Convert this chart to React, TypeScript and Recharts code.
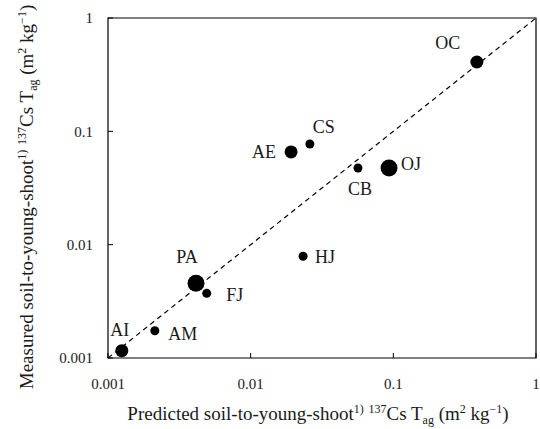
import { ScatterChart, Scatter, XAxis, YAxis, ReferenceLine, ReferenceArea, Label } from 'recharts';

const FONT = '"Liberation Serif", "Times New Roman", serif';

// tea fields, predicted vs measured 137Cs Tag (m2 kg-1)
const SITES = ['AI', 'AM', 'PA', 'FJ', 'HJ', 'AE', 'CS', 'CB', 'OJ', 'OC'];
const PREDICTED = [0.00125, 0.00213, 0.00414, 0.00492, 0.0233, 0.0192, 0.026, 0.0565, 0.0933, 0.385];
const MEASURED = [0.00116, 0.00174, 0.00456, 0.00372, 0.0079, 0.0658, 0.0773, 0.0475, 0.0475, 0.409];
const MARKER_CLASS = [2, 1, 3, 1, 1, 2, 1, 1, 3, 2];
const TICKS = [0.001, 0.01, 0.1, 1];

const RADIUS: Record<number, number> = { 1: 4.5, 2: 6.5, 3: 8.5 };

// where each site name sits relative to its marker
const LABEL_OFFSET: Record<string, [number, number]> = {
  AI: [-2, -21],
  AM: [28, 3],
  PA: [-9, -27],
  FJ: [28, 1],
  HJ: [22, 0],
  AE: [-27, 0],
  CS: [14, -17],
  CB: [2, 21],
  OJ: [22, -4],
  OC: [-29, -19],
};

const data = SITES.map((site, i) => ({
  site,
  x: PREDICTED[i],
  y: MEASURED[i],
  cls: MARKER_CLASS[i],
}));

const Marker = (props: any) => {
  const { cx, cy, payload } = props;
  if (cx == null || cy == null) return null;
  const [dx, dy] = LABEL_OFFSET[payload.site] ?? [0, -15];
  return (
    <g>
      <circle cx={cx} cy={cy} r={RADIUS[payload.cls]} fill="#000" />
      <text
        x={cx + dx}
        y={cy + dy}
        dy="0.35em"
        textAnchor="middle"
        fontSize={18}
        fontFamily={FONT}
        fill="#1a1a1a"
      >
        {payload.site}
      </text>
    </g>
  );
};

const TitleBody = () => (
  <>
    soil-to-young-shoot
    <tspan fontSize={12} dy={-7}>1)</tspan>
    <tspan dy={7}> </tspan>
    <tspan fontSize={12} dy={-7}>137</tspan>
    <tspan dy={7}>Cs T</tspan>
    <tspan fontSize={12} dy={4}>ag</tspan>
    <tspan dy={-4}> (m</tspan>
    <tspan fontSize={12} dy={-7}>2</tspan>
    <tspan dy={7}> kg</tspan>
    <tspan fontSize={12} dy={-7}>−1</tspan>
    <tspan dy={7}>)</tspan>
  </>
);

const XTitle = (props: any) => {
  const vb = props.viewBox ?? { x: 108, y: 358, width: 428 };
  return (
    <text x={vb.x + vb.width / 2 - 4} y={vb.y + 62} textAnchor="middle" fontSize={19} fontFamily={FONT} fill="#1a1a1a">
      Predicted <TitleBody />
    </text>
  );
};

const YTitle = (props: any) => {
  const vb = props.viewBox ?? { x: 0, y: 18, height: 340 };
  const cx = 33;
  const cy = vb.y + vb.height / 2 + 9;
  return (
    <text
      x={cx}
      y={cy}
      transform={`rotate(-90 ${cx} ${cy})`}
      textAnchor="middle"
      fontSize={19}
      fontFamily={FONT}
      fill="#1a1a1a"
    >
      Measured <TitleBody />
    </text>
  );
};

export default function App() {
  return (
    <div style={{ position: 'absolute', left: 0, top: 0, width: 540, height: 429, background: '#fff' }}>
      <ScatterChart width={540} height={429} margin={{ top: 18, right: 4, bottom: 0, left: 0 }}>
        <XAxis
          type="number"
          dataKey="x"
          scale="log"
          domain={[0.001, 1]}
          ticks={TICKS}
          allowDataOverflow
          height={71}
          axisLine={false}
          tickLine={{ stroke: '#000' }}
          tickSize={-5}
          tickMargin={25}
          tick={{ fill: '#1a1a1a', fontSize: 15, fontFamily: FONT }}
        >
          <Label content={XTitle} />
        </XAxis>
        <YAxis
          type="number"
          dataKey="y"
          scale="log"
          domain={[0.001, 1]}
          ticks={TICKS}
          allowDataOverflow
          width={108}
          axisLine={false}
          tickLine={{ stroke: '#000' }}
          tickSize={-5}
          tickMargin={20}
          tick={{ fill: '#1a1a1a', fontSize: 15, fontFamily: FONT }}
        >
          <Label content={YTitle} />
        </YAxis>
        <ReferenceArea x1={0.001} x2={1} y1={0.001} y2={1} fill="none" fillOpacity={0} stroke="#000" strokeWidth={1.2} />
        <ReferenceLine
          segment={[{ x: 0.001, y: 0.001 }, { x: 1, y: 1 }]}
          stroke="#000"
          strokeWidth={1.2}
          strokeDasharray="5 4"
        />
        <Scatter data={data} shape={Marker} isAnimationActive={false} />
      </ScatterChart>
    </div>
  );
}
